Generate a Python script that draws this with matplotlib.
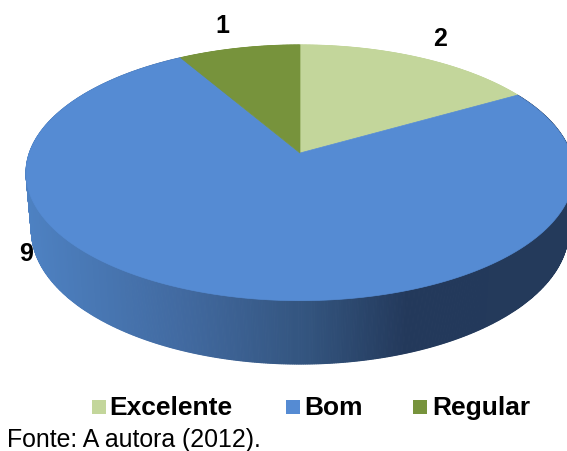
import numpy as np
import matplotlib
matplotlib.use("Agg")
import matplotlib.pyplot as plt
from matplotlib.patches import Polygon, Rectangle
from matplotlib.colors import LinearSegmentedColormap

# --- data ---
categories = ["Excelente", "Bom", "Regular"]
values = [2, 9, 1]
source_note = "Fonte: A autora (2012)."

colors = ["#c3d69b", "#558bd3", "#77933c"]

W, H = 567, 452
fig = plt.figure(figsize=(W / 100, H / 100), dpi=100)
ax = fig.add_axes([0, 0, 1, 1])
ax.set_xlim(0, W)
ax.set_ylim(H, 0)
ax.axis("off")

# --- perspective camera for a tilted disc of radius 1 ---
elev = np.arcsin(0.461)
sin_e, cos_e = np.sin(elev), np.cos(elev)
dist = 5.72
focal = 1548.0
cx, cy = 300.0, 154.0
thick = 0.24


def project(theta_deg, z=0.0, r=1.0):
    t = np.radians(theta_deg)
    x = r * np.sin(t)
    y = r * np.cos(t)
    v = y * sin_e + z * cos_e
    d = dist + y * cos_e - z * sin_e
    return cx + focal * x / d, cy - focal * v / d


total = float(sum(values))
bounds = np.concatenate([[0], np.cumsum(values)]) / total * 360.0

# side wall gradient (light on the left, dark navy on the right)
side_cmap = LinearSegmentedColormap.from_list(
    "side",
    [(0.0, "#4e82c3"), (0.30, "#41699f"), (0.52, "#33547e"),
     (0.70, "#23395b"), (1.0, "#243a5b")],
)

# side wall: thin quads along the rim, drawn back-to-front
for i, val in enumerate(values):
    a0, a1 = bounds[i], bounds[i + 1]
    n = max(int((a1 - a0) * 3), 2)
    th = np.linspace(a0, a1, n + 1)
    quads = []
    for k in range(n):
        ta, tb = th[k], th[k + 1]
        xa, ya = project(ta)
        xb, yb = project(tb)
        xc, yc = project(tb, -thick)
        xd, yd = project(ta, -thick)
        depth = np.cos(np.radians(0.5 * (ta + tb)))
        quads.append((depth, [(xa, ya), (xb, yb), (xc, yc), (xd, yd)]))
    quads.sort(key=lambda q: -q[0])
    for depth, pts in quads:
        mx = np.mean([p[0] for p in pts])
        if i == 1:
            col = side_cmap(np.clip((mx - 25) / 545, 0, 1))
        else:
            col = colors[i]
        ax.add_patch(Polygon(pts, closed=True, facecolor=col,
                             edgecolor=col, linewidth=0.8, zorder=2))

# top face slices
for i, val in enumerate(values):
    a0, a1 = bounds[i], bounds[i + 1]
    th = np.linspace(a0, a1, 200)
    pts = [(cx, cy)] + [project(t) for t in th]
    ax.add_patch(Polygon(pts, closed=True, facecolor=colors[i],
                         edgecolor=colors[i], linewidth=0.5, zorder=3))

# value labels
label_pos = [(440, 39), (26, 254), (222, 26)]
for val, (lx, ly) in zip(values, label_pos):
    ax.text(lx, ly, f"{val}", ha="center", va="center", fontsize=18,
            fontweight="bold", family="Liberation Sans", color="black",
            zorder=5)

# legend
leg_sq = [92, 286, 413]
leg_tx = [109, 304, 432]
for c, name, sx, tx in zip(colors, categories, leg_sq, leg_tx):
    ax.add_patch(Rectangle((sx, 401), 13.5, 14, facecolor=c,
                           edgecolor="none", zorder=5))
    ax.text(tx, 408, name, ha="left", va="center", fontsize=19,
            fontweight="bold", family="Liberation Sans", color="black")

ax.text(7, 447, source_note, ha="left", va="baseline", fontsize=17.9,
        family="Liberation Sans", color="black")

fig.savefig("out.png", dpi=100)
